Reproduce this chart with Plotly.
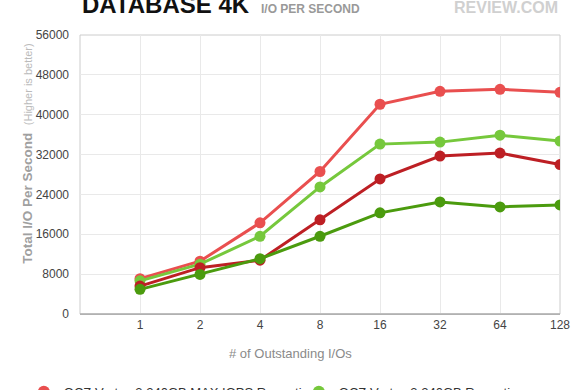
import plotly.graph_objects as go

categories = ["1", "2", "4", "8", "16", "32", "64", "128"]
series_names = [
    "OCZ Vertex 3 240GB MAX IOPS Repeating",
    "OCZ Vertex 3 240GB Repeating",
    "OCZ Vertex 3 240GB MAX IOPS Incompressible",
    "OCZ Vertex 3 240GB Incompressible",
]
max_iops_repeating = [7100, 10600, 18300, 28600, 42100, 44700, 45100, 44500]
repeating = [6650, 10000, 15600, 25500, 34100, 34500, 35900, 34700]
max_iops_incompressible = [5600, 9300, 10800, 18900, 27100, 31700, 32300, 30000]
incompressible = [4950, 7950, 11100, 15600, 20300, 22500, 21500, 21900]
y_ticks = [0, 8000, 16000, 24000, 32000, 40000, 48000, 56000]
y_tick_labels = [str(v) for v in y_ticks]

series_values = [max_iops_repeating, repeating, max_iops_incompressible, incompressible]
colors = ["#e94f4f", "#76c83c", "#bd1f24", "#4b9b0e"]

FONT = "Liberation Sans, Arial, Helvetica, sans-serif"

fig = go.Figure()
for name, vals, col in zip(series_names, series_values, colors):
    fig.add_trace(go.Scatter(
        x=categories, y=vals, mode="lines+markers", name=name,
        line=dict(color=col, width=3), marker=dict(color=col, size=11),
        showlegend=False, legendgroup=name, hoverinfo="x+y+name"))
for name, col in zip(series_names, colors):
    fig.add_trace(go.Scatter(
        x=[None], y=[None], mode="markers", name=name,
        marker=dict(color=col, size=11), legendgroup=name, showlegend=True))

fig.update_layout(
    width=580, height=390,
    margin=dict(l=80, r=20, t=35, b=76, autoexpand=False),
    paper_bgcolor="white", plot_bgcolor="white",
    font=dict(family=FONT, color="#555555", size=11),
    showlegend=True,
    legend=dict(orientation="h", x=-0.117, xanchor="left", y=-0.225, yanchor="top",
                font=dict(size=13, color="#333333"), entrywidth=230,
                entrywidthmode="pixels", tracegroupgap=0, itemsizing="constant"),
    xaxis=dict(type="category", range=[-1, 7], showgrid=True, gridcolor="#e9e9e9",
               gridwidth=1, showline=True, linecolor="#b5b5b5", linewidth=1,
               mirror=False, ticks="", tickfont=dict(size=12, color="#444444"),
               zeroline=False, fixedrange=True),
    yaxis=dict(range=[0, 56000], tickvals=y_ticks, ticktext=y_tick_labels,
               showgrid=True, gridcolor="#e9e9e9",
               showline=False, ticks="", tickfont=dict(size=12, color="#444444"),
               zeroline=False, ticklabelstandoff=10, fixedrange=True),
    shapes=[
        dict(type="rect", xref="paper", yref="paper", x0=0, x1=1, y0=0, y1=1,
             line=dict(color="#cccccc", width=1), layer="below"),
        dict(type="line", xref="paper", yref="paper", x0=0, x1=1, y0=0, y1=0,
             line=dict(color="#b0b0b0", width=1.5), layer="above"),
    ],
    annotations=[
        dict(text="<b>DATABASE 4K</b>", xref="paper", yref="paper", x=0, y=1,
             xanchor="left", yanchor="bottom", yshift=15, showarrow=False,
             font=dict(size=24, color="#111111", family=FONT)),
        dict(text="<b>I/O PER SECOND</b>", xref="paper", yref="paper", x=0.373, y=1,
             xanchor="left", yanchor="bottom", yshift=17, showarrow=False,
             font=dict(size=12, color="#999999", family=FONT)),
        dict(text="<b>REVIEW.COM</b>", xref="paper", yref="paper", x=1, y=1,
             xanchor="right", yanchor="bottom", yshift=17, showarrow=False,
             font=dict(size=16, color="#d0d0d0", family=FONT)),
        dict(text="<b>Total I/O Per Second</b>  <span style='font-size:11px;color:#bbbbbb'>(Higher is better)</span>",
             xref="paper", yref="paper", x=-0.11, y=0.575, xanchor="center", yanchor="middle",
             textangle=-90, showarrow=False, font=dict(size=13.5, color="#a0a0a0", family=FONT)),
        dict(text="# of Outstanding I/Os", xref="paper", yref="paper", x=0.4375, y=0,
             xanchor="center", yanchor="top", yshift=-30, showarrow=False,
             font=dict(size=13, color="#8a8a8a", family=FONT)),
    ],
)

fig.write_html("out.html", config={"displayModeBar": False},
               post_script="document.body.style.margin='0';")
